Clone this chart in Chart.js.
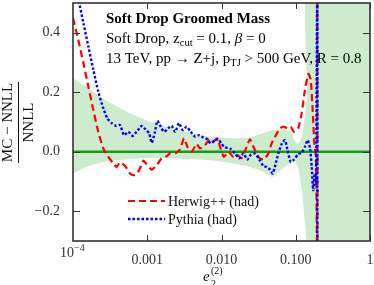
<!DOCTYPE html>
<html>
<head>
<meta charset="utf-8">
<script src="https://cdn.jsdelivr.net/npm/chart.js@4.4.1/dist/chart.umd.min.js"></script>
<style>
  html, body { margin: 0; padding: 0; background: #fff; }
  canvas { display: block; }
</style>
</head>
<body>
<canvas id="sdChart" width="374" height="285"></canvas>
<script>
// e2 values and (MC - NNLL)/NNLL
const herwigX = [1.00e-4, 1.18e-4, 1.38e-4, 1.61e-4, 1.88e-4, 2.19e-4, 2.56e-4, 2.99e-4, 3.49e-4, 3.87e-4,
  4.30e-4, 5.01e-4, 5.86e-4, 6.50e-4, 7.19e-4, 7.98e-4, 8.85e-4, 9.82e-4, 1.15e-3, 1.34e-3,
  1.56e-3, 1.83e-3, 2.02e-3, 2.37e-3, 2.76e-3, 3.13e-3, 3.47e-3, 3.96e-3, 4.63e-3, 5.13e-3,
  6.00e-3, 6.86e-3, 7.76e-3, 8.79e-3, 9.55e-3, 1.08e-2, 1.24e-2, 1.44e-2, 1.63e-2, 1.87e-2,
  2.18e-2, 2.42e-2, 2.69e-2, 3.13e-2, 3.66e-2, 4.28e-2, 4.74e-2, 5.42e-2, 6.14e-2, 6.95e-2,
  7.71e-2, 8.55e-2, 9.46e-2, 0.108, 0.120, 0.133, 0.148, 0.159, 0.169, 0.178,
  0.187, 0.195, 0.1951];
const herwigY = [0.449, 0.376, 0.298, 0.219, 0.14, 0.067, 0.011, -0.017, -0.039, -0.051,
  -0.036, -0.047, -0.073, -0.079, -0.073, -0.056, -0.03, -0.042, -0.06, -0.045,
  -0.022, -0.015, -0.006, -0.006, 0.008, 0.045, 0.017, 0.0, 0.026, 0.011,
  0.022, 0.042, 0.034, 0.045, 0.017, -0.017, 0.0, -0.017, -0.011, -0.022,
  0.017, 0.042, 0.017, -0.017, -0.026, -0.006, 0.028, 0.056, 0.079, 0.084,
  0.079, 0.084, 0.067, 0.079, 0.129, 0.208, 0.262, 0.242, 0.14, 0.028,
  -0.017, -0.4, 0.6];

const pythiaX = [1.00e-4, 1.20e-4, 1.38e-4, 1.61e-4, 1.88e-4, 2.19e-4, 2.56e-4, 2.90e-4, 3.32e-4, 3.79e-4,
  4.30e-4, 4.86e-4, 5.56e-4, 6.36e-4, 7.19e-4, 8.41e-4, 9.52e-4, 1.06e-3, 1.15e-3, 1.27e-3,
  1.37e-3, 1.52e-3, 1.68e-3, 1.92e-3, 2.13e-3, 2.37e-3, 2.68e-3, 3.00e-3, 3.40e-3, 3.85e-3,
  4.40e-3, 5.03e-3, 5.69e-3, 6.44e-3, 7.14e-3, 8.17e-3, 9.06e-3, 1.005e-2, 1.11e-2, 1.30e-2,
  1.52e-2, 1.74e-2, 1.97e-2, 2.23e-2, 2.47e-2, 2.83e-2, 3.23e-2, 3.66e-2, 4.06e-2, 4.50e-2,
  4.89e-2, 5.31e-2, 5.82e-2, 6.46e-2, 7.16e-2, 7.71e-2, 8.55e-2, 9.46e-2, 0.108, 0.120,
  0.133, 0.145, 0.156, 0.164, 0.172, 0.180, 0.187, 0.195, 0.1951];
const pythiaY = [0.61, 0.506, 0.433, 0.354, 0.275, 0.202, 0.146, 0.112, 0.096, 0.087,
  0.09, 0.056, 0.067, 0.053, 0.067, 0.087, 0.075, 0.062, 0.03, 0.067,
  0.104, 0.084, 0.067, 0.079, 0.087, 0.067, 0.096, 0.073, 0.084, 0.067,
  0.051, 0.056, 0.048, 0.042, 0.028, 0.039, 0.042, 0.026, 0.015, 0.011,
  -0.006, -0.022, -0.006, -0.026, -0.011, -0.006, -0.026, -0.048, -0.051, -0.06,
  -0.073, -0.045, -0.006, 0.026, 0.039, 0.008, -0.034, -0.026, -0.008, -0.003,
  0.017, 0.039, 0.011, -0.051, -0.129, -0.073, -0.107, 0.6, -0.4];

// NNLL uncertainty band
const bandX = [1.00e-4, 1.55e-4, 2.31e-4, 3.92e-4, 6.43e-4, 1.09e-3, 1.85e-3, 3.03e-3, 5.13e-3, 8.68e-3,
  1.43e-2, 2.42e-2, 3.62e-2, 4.94e-2, 6.73e-2, 8.37e-2, 9.77e-2, 0.107, 0.121, 0.133,
  0.142, 0.151, 1.0];
const bandUpper = [0.247, 0.217, 0.185, 0.152, 0.124, 0.101, 0.084, 0.07, 0.056, 0.048,
  0.045, 0.048, 0.062, 0.073, 0.075, 0.068, 0.035, 0.026, 0.05, 0.12,
  0.2, 0.6, 0.6];
const bandLower = [-0.073, -0.05, -0.037, -0.028, -0.024, -0.021, -0.021, -0.024, -0.026, -0.031,
  -0.039, -0.051, -0.067, -0.084, -0.055, -0.04, -0.035, -0.05, -0.13, -0.24,
  -0.33, -0.4, -0.4];

const xMajorTicks = [0.0001, 0.001, 0.01, 0.1, 1];
const xTickLabels = ['', '0.001', '0.010', '0.100', '1'];
const xMinorTicks = [0.0002, 0.0003, 0.0004, 0.0005, 0.0006, 0.0007, 0.0008, 0.0009,
  0.002, 0.003, 0.004, 0.005, 0.006, 0.007, 0.008, 0.009,
  0.02, 0.03, 0.04, 0.05, 0.06, 0.07, 0.08, 0.09,
  0.2, 0.3, 0.4, 0.5, 0.6, 0.7, 0.8, 0.9];
const yMajorTicks = [-0.2, 0.0, 0.2, 0.4];
const yTickLabels = ['\u22120.2', '0.0', '0.2', '0.4'];
const yMinorTicks = [-0.3, -0.25, -0.15, -0.1, -0.05, 0.05, 0.1, 0.15, 0.25, 0.3, 0.35, 0.45, 0.5];

const serif = "'Liberation Serif', 'DejaVu Serif', serif";
const frameColor = '#333';

function toPoints(xs, ys) {
  return xs.map((x, i) => ({ x: x, y: ys[i] }));
}

function setTicks(majors, minors) {
  return function (scale) {
    const all = majors.map(v => ({ value: v, major: true }))
      .concat(minors.map(v => ({ value: v, major: false })));
    all.sort((a, b) => a.value - b.value);
    scale.ticks = all;
  };
}

function labelFor(majors, labels) {
  return function (value) {
    const i = majors.findIndex(m => Math.abs(m - value) < 1e-9);
    return i >= 0 && labels[i] ? labels[i] : null;
  };
}

// keep the plot frame where it is in the original, ignore label overhang
function fixScale(size) {
  return function (scale) {
    if (scale.isHorizontal()) scale.height = size;
    else scale.width = size;
    scale.paddingTop = 0;
    scale.paddingBottom = 0;
    scale.paddingLeft = 0;
    scale.paddingRight = 0;
  };
}

function drawRuns(ctx, x, y, runs) {
  runs.forEach(r => {
    ctx.font = r.font;
    ctx.fillText(r.t, x, y + (r.dy || 0));
    x += ctx.measureText(r.t).width;
  });
}

const decorPlugin = {
  id: 'decor',
  afterDatasetsDraw(chart) {
    const ctx = chart.ctx;
    ctx.save();
    ctx.fillStyle = '#000';
    ctx.textBaseline = 'alphabetic';
    ctx.textAlign = 'left';
    // annotation text
    ctx.font = 'bold 15px ' + serif;
    ctx.fillText('Soft Drop Groomed Mass', 106, 23);
    drawRuns(ctx, 106, 43, [
      { t: 'Soft Drop, z', font: '15px ' + serif },
      { t: 'cut', font: '10.5px ' + serif, dy: 3 },
      { t: ' = 0.1, ', font: '15px ' + serif },
      { t: '\u03B2', font: 'italic 15px ' + serif },
      { t: ' = 0', font: '15px ' + serif }
    ]);
    drawRuns(ctx, 106, 63, [
      { t: '13 TeV, pp \u2192 Z+j, p', font: '15px ' + serif },
      { t: 'TJ', font: '10.5px ' + serif, dy: 3 },
      { t: ' > 500 GeV, R = 0.8', font: '15px ' + serif }
    ]);

    // legend
    const items = [chart.data.datasets[1], chart.data.datasets[0]];
    const rows = [201, 219];
    items.forEach((ds, i) => {
      ctx.beginPath();
      ctx.strokeStyle = ds.borderColor;
      ctx.lineWidth = ds.borderWidth;
      ctx.setLineDash(ds.borderDash);
      ctx.moveTo(128, rows[i]);
      ctx.lineTo(165, rows[i]);
      ctx.stroke();
      ctx.setLineDash([]);
      ctx.fillStyle = '#111';
      ctx.font = '14px ' + serif;
      ctx.fillText(ds.label, 168, rows[i] + 5);
    });
    ctx.restore();
  },
  afterDraw(chart) {
    const ctx = chart.ctx;
    const a = chart.chartArea;
    const xs = chart.scales.x;
    const ys = chart.scales.y;
    ctx.save();
    ctx.strokeStyle = frameColor;
    ctx.lineWidth = 1;
    // tick marks on all four sides
    ctx.beginPath();
    xs.ticks.forEach(t => {
      const px = Math.round(xs.getPixelForValue(t.value)) + 0.5;
      const len = t.major ? 6 : 3.5;
      ctx.moveTo(px, a.bottom); ctx.lineTo(px, a.bottom - len);
      ctx.moveTo(px, a.top); ctx.lineTo(px, a.top + len);
    });
    ys.ticks.forEach(t => {
      const py = Math.round(ys.getPixelForValue(t.value)) + 0.5;
      const len = t.major ? 7 : 4;
      ctx.moveTo(a.left, py); ctx.lineTo(a.left + len, py);
      ctx.moveTo(a.right, py); ctx.lineTo(a.right - len, py);
    });
    ctx.stroke();
    // frame
    ctx.lineWidth = 1.6;
    ctx.strokeRect(a.left, a.top, a.right - a.left, a.bottom - a.top);

    // first x label 10^-4
    ctx.fillStyle = frameColor;
    ctx.textBaseline = 'alphabetic';
    const p0 = xs.getPixelForValue(xMajorTicks[0]);
    drawRuns(ctx, p0 - 13, 257, [
      { t: '10', font: '14px ' + serif },
      { t: '\u22124', font: '10px ' + serif, dy: -6 }
    ]);

    // x axis title e2^(2)
    ctx.fillStyle = '#111';
    ctx.font = 'italic 15px ' + serif;
    ctx.fillText('e', 203, 281);
    ctx.font = '10px ' + serif;
    ctx.fillText('(2)', 211, 274);
    ctx.fillText('2', 211, 287);

    // y axis title as fraction
    ctx.translate(18, 122.5);
    ctx.rotate(-Math.PI / 2);
    ctx.textAlign = 'center';
    ctx.font = '15px ' + serif;
    ctx.fillText('MC \u2212 NNLL', 0, -6);
    ctx.fillText('NNLL', 0, 15);
    ctx.beginPath();
    ctx.lineWidth = 1;
    ctx.strokeStyle = '#111';
    ctx.moveTo(-40.5, 0.5);
    ctx.lineTo(40.5, 0.5);
    ctx.stroke();
    ctx.restore();
  }
};

const ctx = document.getElementById('sdChart').getContext('2d');
const sdChart = new Chart(ctx, {
  type: 'line',
  data: {
    datasets: [
      {
        label: 'Pythia (had)',
        data: toPoints(pythiaX, pythiaY),
        borderColor: '#0000ff',
        borderWidth: 2.4,
        borderDash: [2.5, 2],
        pointRadius: 0,
        tension: 0.2,
        fill: false
      },
      {
        label: 'Herwig++ (had)',
        data: toPoints(herwigX, herwigY),
        borderColor: '#ff0000',
        borderWidth: 2.2,
        borderDash: [7, 4],
        pointRadius: 0,
        tension: 0.2,
        fill: false
      },
      {
        label: 'zero',
        data: toPoints([1e-4, 1], [0, 0]),
        borderColor: '#12a012',
        borderWidth: 2.5,
        pointRadius: 0,
        fill: false
      },
      {
        label: 'band upper',
        data: toPoints(bandX, bandUpper),
        borderWidth: 0,
        borderColor: 'rgba(0,0,0,0)',
        backgroundColor: '#cdebcd',
        pointRadius: 0,
        tension: 0.2,
        fill: '+1'
      },
      {
        label: 'band lower',
        data: toPoints(bandX, bandLower),
        borderWidth: 0,
        borderColor: 'rgba(0,0,0,0)',
        pointRadius: 0,
        tension: 0.2,
        fill: false
      }
    ]
  },
  options: {
    responsive: false,
    animation: false,
    devicePixelRatio: 1,
    layout: { padding: { top: 3, right: 4, left: 0, bottom: 0 } },
    plugins: {
      legend: { display: false },
      tooltip: { enabled: false }
    },
    scales: {
      x: {
        type: 'logarithmic',
        min: 1e-4,
        max: 1,
        grid: { display: false },
        border: { display: false },
        afterBuildTicks: setTicks(xMajorTicks, xMinorTicks),
        afterFit: fixScale(44),
        ticks: {
          autoSkip: false,
          maxRotation: 0,
          padding: 3,
          color: frameColor,
          font: { family: serif, size: 14 },
          callback: labelFor(xMajorTicks, xTickLabels)
        }
      },
      y: {
        type: 'linear',
        min: -0.3,
        max: 0.5,
        grid: { display: false },
        border: { display: false },
        afterBuildTicks: setTicks(yMajorTicks, yMinorTicks),
        afterFit: fixScale(73),
        ticks: {
          autoSkip: false,
          padding: 5,
          color: frameColor,
          font: { family: serif, size: 14 },
          callback: labelFor(yMajorTicks, yTickLabels)
        }
      }
    }
  },
  plugins: [decorPlugin]
});
</script>
</body>
</html>
